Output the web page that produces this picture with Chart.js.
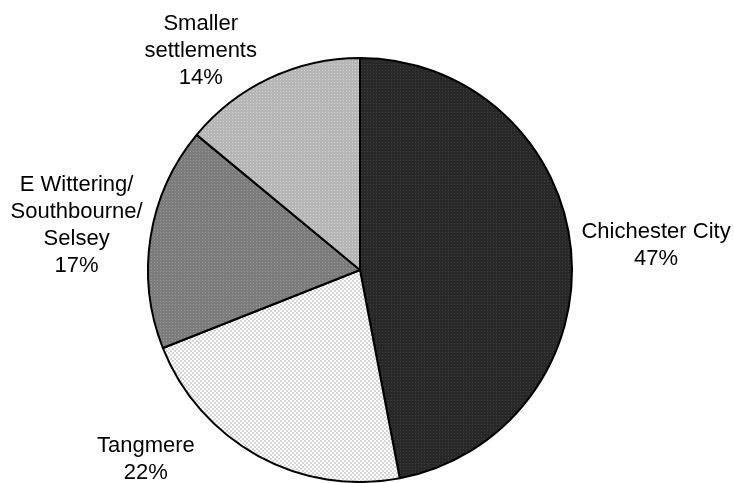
<!DOCTYPE html>
<html>
<head>
<meta charset="utf-8">
<title>Housing distribution</title>
<script src="https://cdn.jsdelivr.net/npm/chart.js@4"></script>
<style>
  body { margin: 0; background: #fff; }
  #wrap { width: 734px; height: 483px; }
</style>
</head>
<body>
<div id="wrap"><canvas id="canvas-1" width="734" height="483"></canvas></div>
<script>
// data
var labels = [['Chichester City'], ['Tangmere'], ['E Wittering/', 'Southbourne/', 'Selsey'], ['Smaller', 'settlements']];
var shares = [47, 22, 17, 14];

// label offsets from the slice edge (px)
var labelNudge = [[85, -5], [-112, 4], [-74, -11], [-69, -27]];

// small texture tiles, like the original's pattern fills
function makePattern(size, base, dot, cells) {
  var c = document.createElement('canvas');
  c.width = size; c.height = size;
  var g = c.getContext('2d');
  g.fillStyle = base;
  g.fillRect(0, 0, size, size);
  g.fillStyle = dot;
  cells.forEach(function (p) { g.fillRect(p[0], p[1], p[2] || 1, p[3] || 1); });
  return g.createPattern(c, 'repeat');
}

var ctx = document.getElementById('canvas-1').getContext('2d');
var fills = [
  makePattern(3, '#282828', '#3e3e3e', [[1, 1]]),
  makePattern(4, '#ffffff', '#d6d6d6', [[0, 0, 2, 2], [2, 2, 2, 2]]),
  makePattern(3, '#7c7c7c', '#979797', [[1, 1]]),
  makePattern(3, '#b6b6b6', '#d2d2d2', [[1, 1]])
];

var outsideLabels = {
  id: 'outsideLabels',
  afterDraw: function (chart) {
    var c = chart.ctx;
    var arcs = chart.getDatasetMeta(0).data;
    c.save();
    c.font = '22px "Liberation Sans", Arial, sans-serif';
    c.fillStyle = '#000';
    c.textAlign = 'center';
    c.textBaseline = 'middle';
    arcs.forEach(function (arc, i) {
      var mid = (arc.startAngle + arc.endAngle) / 2;
      var x = arc.x + Math.cos(mid) * arc.outerRadius + labelNudge[i][0];
      var y = arc.y + Math.sin(mid) * arc.outerRadius + labelNudge[i][1];
      var lines = labels[i].concat([shares[i] + '%']);
      var lh = 27;
      var top = y - (lines.length - 1) * lh / 2;
      lines.forEach(function (t, k) {
        c.fillText(t, x, top + k * lh);
      });
    });
    c.restore();
  }
};

var pieChart = new Chart(ctx, {
  type: 'pie',
  data: {
    labels: labels.map(function (l) { return l.join(' '); }),
    datasets: [{
      data: shares,
      backgroundColor: fills,
      borderColor: '#000',
      borderWidth: 2
    }]
  },
  options: {
    responsive: false,
    animation: false,
    layout: { padding: { left: 147, right: 161, top: 57, bottom: 0 } },
    plugins: {
      legend: { display: false },
      tooltip: { enabled: false }
    }
  },
  plugins: [outsideLabels]
});
</script>
</body>
</html>
